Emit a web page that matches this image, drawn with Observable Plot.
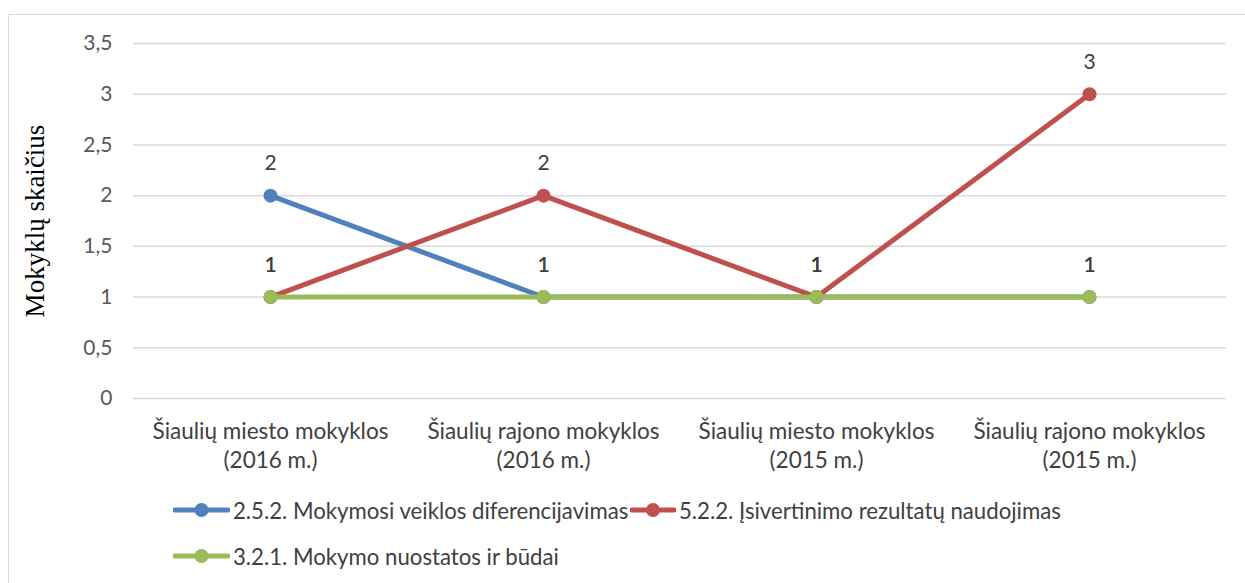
<!DOCTYPE html>
<html>
<head>
<meta charset="utf-8">
<script src="https://cdn.jsdelivr.net/npm/d3@7"></script>
<script src="https://cdn.jsdelivr.net/npm/@observablehq/plot@0.6"></script>
<style>
  html, body { margin: 0; padding: 0; background: #fff; }
  #wrap { position: relative; width: 1245px; height: 583px; overflow: hidden; font-family: Lato, "Open Sans", sans-serif; }
  #frame { position: absolute; left: 8px; top: 14px; width: 1250px; height: 600px; border: 1.5px solid #d9d9d9; box-sizing: border-box; }
  #chart { position: absolute; left: 0; top: 0; }
  .leg { position: absolute; display: flex; align-items: center; font-size: 22.2px; color: #404040; white-space: nowrap; }
  .leg svg { margin-right: 3px; }
</style>
</head>
<body>
<div id="wrap">
  <div id="frame"></div>
  <div id="chart"></div>
  <div id="legend"></div>
</div>
<script>
const categories = [
  "Šiaulių miesto mokyklos\n(2016 m.)",
  "Šiaulių rajono mokyklos\n(2016 m.)",
  "Šiaulių miesto mokyklos\n(2015 m.)",
  "Šiaulių rajono mokyklos\n(2015 m.)"
];
const seriesNames = [
  "2.5.2. Mokymosi veiklos diferencijavimas",
  "5.2.2. Įsivertinimo rezultatų naudojimas",
  "3.2.1. Mokymo nuostatos ir būdai"
];
const seriesColors = ["#4f81bd", "#c0504d", "#9bbb59"];
const blueValues = [2, 1, 1, 1];
const redValues = [1, 2, 1, 3];
const greenValues = [1, 1, 1, 1];
const yTicks = [0, 0.5, 1, 1.5, 2, 2.5, 3, 3.5];
const yLabel = "Mokyklų skaičius";

const allValues = [blueValues, redValues, greenValues];
const data = [];
allValues.forEach((vals, s) => vals.forEach((v, i) => data.push({series: seriesNames[s], cat: categories[i], value: v})));

const fmt = d => String(d).replace(".", ",");

const marks = [
  Plot.gridY(yTicks, {stroke: "#d9d9d9", strokeOpacity: 1, strokeWidth: 1.5}),
  Plot.axisY(yTicks, {tickSize: 0, tickPadding: 21, tickFormat: fmt, fontSize: 21, fill: "#595959", label: null}),
  Plot.axisX({tickSize: 0, tickPadding: 19, fontSize: 22.5, fill: "#404040", label: null, lineHeight: 1.32}),
  Plot.text([yLabel], {frameAnchor: "left", textAnchor: "middle", rotate: -90, dx: -98, fontSize: 27, fontFamily: "Liberation Serif, serif", fill: "#000"})
];
seriesNames.forEach((name, s) => {
  const d = data.filter(r => r.series === name);
  marks.push(Plot.line(d, {x: "cat", y: "value", stroke: seriesColors[s], strokeWidth: 5}));
  marks.push(Plot.dot(d, {x: "cat", y: "value", fill: seriesColors[s], r: 7, stroke: null}));
});
seriesNames.forEach((name, s) => {
  const d = data.filter(r => r.series === name);
  marks.push(Plot.text(d, {x: "cat", y: "value", text: r => fmt(r.value), dy: -32, fontSize: 21, fill: "#404040"}));
});

const chart = Plot.plot({
  width: 1245,
  height: 583,
  marginLeft: 133,
  marginRight: 19,
  marginTop: 43,
  marginBottom: 185,
  style: {background: "transparent", fontFamily: "Lato, sans-serif"},
  x: {type: "point", domain: categories, padding: 0.5},
  y: {domain: [0, 3.5]},
  marks
});
document.getElementById("chart").appendChild(chart);

const legendPos = [
  {left: 173, top: 510},
  {left: 630, top: 510, w: 46},
  {left: 173, top: 556}
];
const leg = document.getElementById("legend");
seriesNames.forEach((name, s) => {
  const p = legendPos[s];
  const w = p.w || 57;
  const div = document.createElement("div");
  div.className = "leg";
  div.style.left = p.left + "px";
  div.style.top = (p.top - 14) + "px";
  div.style.height = "28px";
  div.innerHTML = `<svg width="${w}" height="16"><line x1="2" x2="${w-2}" y1="8" y2="8" stroke="${seriesColors[s]}" stroke-width="5" stroke-linecap="round"/><circle cx="${w/2}" cy="8" r="7" fill="${seriesColors[s]}"/></svg><span>${name}</span>`;
  leg.appendChild(div);
});
</script>
</body>
</html>
